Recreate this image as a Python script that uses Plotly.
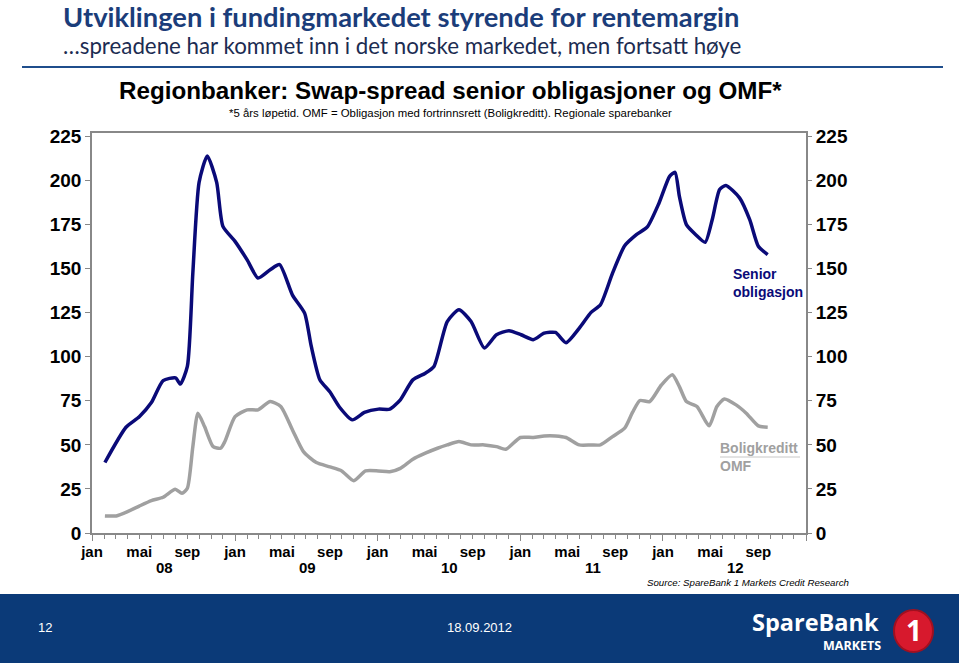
import plotly.graph_objects as go

# ---------------- data ----------------
senior_dates = ["2008-02-03", "2008-03-28", "2008-05-01", "2008-06-01", "2008-07-01", "2008-08-02",
                "2008-08-14", "2008-09-01", "2008-09-15", "2008-10-01", "2008-10-22", "2008-11-15",
                "2008-12-01", "2009-01-01", "2009-02-01", "2009-03-01", "2009-04-01", "2009-04-25",
                "2009-05-28", "2009-06-28", "2009-07-15", "2009-08-06", "2009-09-01", "2009-09-25",
                "2009-10-28", "2009-11-28", "2010-01-03", "2010-02-01", "2010-02-28", "2010-04-01",
                "2010-05-03", "2010-05-25", "2010-06-28", "2010-07-28", "2010-08-28", "2010-10-01",
                "2010-11-01", "2010-12-03", "2011-01-03", "2011-02-03", "2011-03-03", "2011-04-01",
                "2011-04-28", "2011-06-01", "2011-07-01", "2011-07-25", "2011-08-25", "2011-09-25",
                "2011-10-25", "2011-11-22", "2011-12-22", "2012-01-18", "2012-02-01", "2012-02-12",
                "2012-03-01", "2012-03-25", "2012-04-18", "2012-05-06", "2012-05-25", "2012-06-10",
                "2012-07-15", "2012-08-10", "2012-09-01", "2012-09-25"]
senior_values = [40, 60, 66, 74, 86.5, 88,
                 84.5, 94.5, 147.5, 199, 214, 199,
                 174, 165.5, 155, 144.7, 149.4, 152.3,
                 135, 124.8, 106, 87, 80, 71.5,
                 64.2, 68.4, 70.3, 70.3, 75.6, 86.9,
                 90.7, 94.5, 120, 126.7, 120, 105,
                 112.5, 114.8, 112.5, 109.7, 113.4, 113.8,
                 108, 116.3, 125.2, 129.5, 147.5, 163,
                 169.3, 173.7, 187.3, 202.4, 204.7, 191,
                 175, 169.3, 165, 177.8, 194.9, 197.2,
                 190.2, 177.8, 162.7, 158]

omf_dates = ["2008-02-03", "2008-03-03", "2008-04-01", "2008-05-01", "2008-06-01", "2008-07-01",
             "2008-08-01", "2008-08-18", "2008-09-01", "2008-09-15", "2008-09-28", "2008-10-15",
             "2008-11-06", "2008-11-25", "2008-12-06", "2009-01-01", "2009-02-01", "2009-03-01",
             "2009-04-01", "2009-04-28", "2009-05-28", "2009-06-25", "2009-07-28", "2009-09-01",
             "2009-10-01", "2009-11-01", "2009-12-01", "2010-01-03", "2010-02-01", "2010-02-28",
             "2010-04-01", "2010-05-03", "2010-06-03", "2010-06-28", "2010-07-28", "2010-08-28",
             "2010-10-01", "2010-11-01", "2010-11-25", "2011-01-01", "2011-02-03", "2011-03-03",
             "2011-04-01", "2011-04-28", "2011-06-01", "2011-07-01", "2011-07-25", "2011-08-25",
             "2011-09-25", "2011-10-15", "2011-11-03", "2011-11-28", "2011-12-28", "2012-01-25",
             "2012-02-12", "2012-03-01", "2012-03-28", "2012-04-28", "2012-05-18", "2012-06-06",
             "2012-07-06", "2012-08-01", "2012-09-01", "2012-09-25"]
omf_values = [9.7, 9.7, 12.1, 15.3, 18.4, 20.3,
              24.8, 22.5, 25.4, 49, 68, 60.4,
              49, 48.1, 51.9, 66, 69.9, 69.9,
              74.6, 71.8, 58.5, 46.2, 40, 37.5,
              35.2, 29.7, 35.2, 35.2, 34.8, 36.7,
              41.9, 45.3, 48.1, 50, 51.9, 50,
              50, 49, 47.5, 54.2, 54.2, 55.1,
              55.1, 54.2, 50, 50, 50, 54.7,
              59.5, 68.4, 75.2, 74.6, 84, 89.8,
              83.1, 74.6, 71.8, 60.8, 71.8, 76,
              72.7, 68, 60.8, 60]

x_range = ["2008-01-01", "2013-01-01"]
y_range = [0, 227]
y_ticks = [0, 25, 50, 75, 100, 125, 150, 175, 200, 225]
x_tickvals = ["2008-01-01", "2008-05-01", "2008-09-01", "2009-01-01", "2009-05-01", "2009-09-01",
              "2010-01-01", "2010-05-01", "2010-09-01", "2011-01-01", "2011-05-01", "2011-09-01",
              "2012-01-01", "2012-05-01", "2012-09-01"]
x_ticktext = ["jan", "mai", "sep"] * 5
jan_ticks = ["2008-01-01", "2009-01-01", "2010-01-01", "2011-01-01", "2012-01-01", "2013-01-01"]
year_pos = ["2008-07-05", "2009-07-05", "2010-07-05", "2011-07-05", "2012-07-05"]
year_labels = ["08", "09", "10", "11", "12"]

NAVY = "#0a0a78"
GRAY = "#a0a0a0"
AX = "#888888"

# plot area in pixels
L, R, T, B = 92, 806, 133, 533
W, H = 959, 663


def px(x):
    return (x - L) / (R - L)


def py(y):
    return (B - y) / (B - T)


fig = go.Figure()
fig.add_trace(go.Scatter(x=omf_dates, y=omf_values, mode="lines",
                         line=dict(color=GRAY, width=3.5, shape="spline", smoothing=0.6),
                         hoverinfo="skip", showlegend=False))
fig.add_trace(go.Scatter(x=senior_dates, y=senior_values, mode="lines",
                         line=dict(color=NAVY, width=3.5, shape="spline", smoothing=0.6),
                         hoverinfo="skip", showlegend=False))
# invisible trace so the secondary axes are drawn
fig.add_trace(go.Scatter(x=senior_dates[:1], y=senior_values[:1], xaxis="x2", yaxis="y2",
                         mode="markers", marker=dict(opacity=0), hoverinfo="skip", showlegend=False))

tickfont_y = dict(family="Liberation Sans, Arial", size=19, color="black", weight="bold")
tickfont_x = dict(family="Liberation Sans, Arial", size=15, color="black", weight="bold")

fig.update_layout(
    width=W, height=H,
    margin=dict(l=L, r=W - R, t=T, b=H - B, pad=0),
    paper_bgcolor="white", plot_bgcolor="white",
    xaxis=dict(type="date", range=x_range, tickvals=x_tickvals, ticktext=x_ticktext,
               ticks="outside", ticklen=4, tickcolor=AX, tickfont=tickfont_x,
               showline=True, linecolor=AX, linewidth=1.5, mirror=True,
               showgrid=False, zeroline=False,
               minor=dict(dtick="M1", tick0="2008-01-01", ticks="outside", ticklen=4, tickcolor=AX,
                          showgrid=False)),
    xaxis2=dict(type="date", range=x_range, overlaying="x", side="bottom", anchor="y",
                tickvals=jan_ticks, ticks="outside", ticklen=7, tickcolor=AX,
                showticklabels=False, showgrid=False, zeroline=False, showline=False),
    yaxis=dict(range=y_range, tickvals=y_ticks, ticks="outside", ticklen=5, tickcolor=AX,
               tickfont=tickfont_y, showline=True, linecolor=AX, linewidth=1.5, mirror=True,
               showgrid=False, zeroline=False),
    yaxis2=dict(range=y_range, tickvals=y_ticks, overlaying="y", side="right", anchor="x",
                ticks="outside", ticklen=5, tickcolor=AX, tickfont=tickfont_y,
                showgrid=False, zeroline=False, showline=False),
)

ann = []
# slide title & subtitle
ann.append(dict(text="<b>Utviklingen i fundingmarkedet styrende for rentemargin</b>",
                x=px(61), y=py(16), xanchor="left", yanchor="middle",
                font=dict(family="Lato", size=27.3, color="#1b3d7a")))
ann.append(dict(text="…spreadene har kommet inn i det norske markedet, men fortsatt høye",
                x=px(61), y=py(45), xanchor="left", yanchor="middle",
                font=dict(family="Lato", size=22.3, color="#1c2c52")))
# chart title
ann.append(dict(text="<b>Regionbanker: Swap-spread senior obligasjoner og OMF*</b>",
                x=px(450), y=py(90), xanchor="center", yanchor="middle",
                font=dict(family="Liberation Sans, Arial", size=24.2, color="black")))
ann.append(dict(text="*5 års løpetid. OMF = Obligasjon med fortrinnsrett (Boligkreditt). Regionale sparebanker",
                x=px(450), y=py(113), xanchor="center", yanchor="middle",
                font=dict(family="Liberation Sans, Arial", size=11.4, color="black")))
# series labels
ann.append(dict(text="<b>Senior<br>obligasjon</b>", x=px(731), y=py(283), xanchor="left", yanchor="middle",
                align="left", font=dict(family="Liberation Sans, Arial", size=14, color=NAVY)))
ann.append(dict(text="<b>Boligkreditt<br>OMF</b>", x=px(718), y=py(457), xanchor="left", yanchor="middle",
                align="left", font=dict(family="Liberation Sans, Arial", size=14, color=GRAY)))
# year labels
for d, lab in zip(year_pos, year_labels):
    ann.append(dict(text="<b>" + lab + "</b>", x=d, xref="x", y=py(567), yref="paper",
                    xanchor="center", yanchor="middle", showarrow=False,
                    font=dict(family="Liberation Sans, Arial", size=15, color="black")))
# source
ann.append(dict(text="<i>Source: SpareBank 1 Markets Credit Research</i>", x=px(851), y=py(582),
                xanchor="right", yanchor="middle",
                font=dict(family="Liberation Sans, Arial", size=9.7, color="black")))
# footer texts
ann.append(dict(text="12", x=px(45), y=py(627), xanchor="center", yanchor="middle",
                font=dict(family="Liberation Sans, Arial", size=13, color="white")))
ann.append(dict(text="18.09.2012", x=px(480), y=py(627), xanchor="center", yanchor="middle",
                font=dict(family="Liberation Sans, Arial", size=13, color="white")))
ann.append(dict(text="<b>SpareBank</b>", x=px(881), y=py(622), xanchor="right", yanchor="middle",
                font=dict(family="Open Sans", size=23.5, color="white")))
ann.append(dict(text="<b>MARKETS</b>", x=px(883), y=py(645), xanchor="right", yanchor="middle",
                font=dict(family="Open Sans", size=12.5, color="white")))
ann.append(dict(text="<b>1</b>", x=px(914), y=py(630), xanchor="center", yanchor="middle",
                font=dict(family="Open Sans", size=28, color="white")))

for a in ann:
    a.setdefault("xref", "paper")
    a.setdefault("yref", "paper")
    a.setdefault("showarrow", False)
    fig.add_annotation(**a)

shapes = [
    # rule under slide title
    dict(type="line", x0=px(22), x1=px(943), y0=py(67), y1=py(67), line=dict(color="#1f4e8c", width=2)),
    # underline between Boligkreditt and OMF
    dict(type="line", x0=px(720), x1=px(800), y0=py(457), y1=py(457), line=dict(color="#c8c8c8", width=1)),
    # footer
    dict(type="rect", x0=px(0), x1=px(W), y0=py(594), y1=py(H + 2), fillcolor="#0b3a78",
         line=dict(width=0), layer="above"),
    # logo circle
    dict(type="circle", x0=px(894), x1=px(933), y0=py(610), y1=py(652), fillcolor="#d7192d",
         line=dict(color="#a01020", width=2), layer="above"),
]
for s in shapes:
    s.setdefault("xref", "paper")
    s.setdefault("yref", "paper")
    fig.add_shape(**s)

fig.write_html("out.html")
